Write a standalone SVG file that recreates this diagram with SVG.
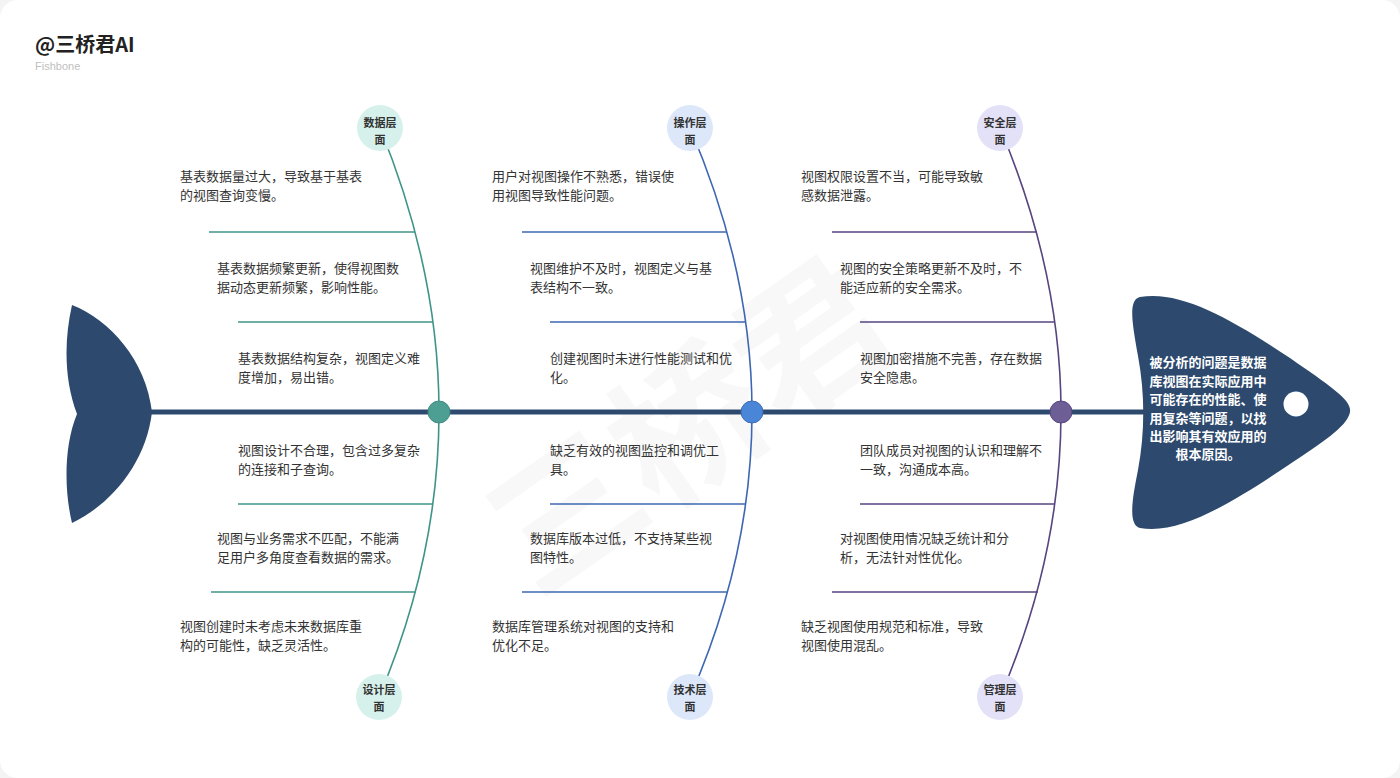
<svg xmlns="http://www.w3.org/2000/svg" width="1400" height="778" viewBox="0 0 1400 778">
<defs>
<style>
text{font-family:"Noto Sans CJK SC","Noto Sans",sans-serif;}
.t{font-size:13px;fill:#333;}
.nt{font-size:11px;font-weight:bold;fill:#333;text-anchor:middle;}
.ht{font-size:13px;font-weight:bold;fill:#fff;text-anchor:middle;}
.teal{stroke:#3f9488;fill:none;stroke-width:1.6;}
.blue{stroke:#3e67b3;fill:none;stroke-width:1.6;}
.purp{stroke:#56457f;fill:none;stroke-width:1.6;}
</style>
</defs>
<rect x="0" y="0" width="1400" height="778" fill="#f4f4f4"/>
<rect x="0" y="0" width="1400" height="778" rx="18" fill="#ffffff"/>
<text x="35" y="52" style="font-size:20px;font-weight:bold;fill:#222;">@三桥君AI</text>
<text x="35" y="70" style="font-family:'Liberation Sans',sans-serif;font-size:11px;fill:#c0c0c0;">Fishbone</text>
<text x="0" y="0" transform="translate(720,470) rotate(-35)" style="font-size:150px;font-weight:bold;fill:#000;opacity:0.025;text-anchor:middle;">三桥君</text>

<g id="tail"><path d="M72,305 C110,320 146,360 152,412 C146,464 110,505 72,523 C64,490 64,445 77,414 C64,380 64,340 72,305 Z" fill="#2d4a6e"/></g>

<g id="connectors">
<line x1="150" y1="412" x2="1150" y2="412" stroke="#2d4a6e" stroke-width="5"/>
<path class="teal" d="M439,412 Q439,272 380,128"/>
<path class="teal" d="M439,412 Q439,556 379,697"/>
<line class="teal" x1="209" y1="232" x2="415" y2="232"/>
<line class="teal" x1="238" y1="322" x2="433" y2="322"/>
<line class="teal" x1="238" y1="504" x2="433" y2="504"/>
<line class="teal" x1="211" y1="592" x2="416" y2="592"/>
<path class="blue" d="M752,412 Q752,272 690,128"/>
<path class="blue" d="M752,412 Q752,556 690,697"/>
<line class="blue" x1="522" y1="232" x2="727" y2="232"/>
<line class="blue" x1="550" y1="322" x2="746" y2="322"/>
<line class="blue" x1="550" y1="504" x2="746" y2="504"/>
<line class="blue" x1="522" y1="592" x2="728" y2="592"/>
<path class="purp" d="M1061,412 Q1061,272 1000,128"/>
<path class="purp" d="M1061,412 Q1061,556 1000,697"/>
<line class="purp" x1="832" y1="232" x2="1037" y2="232"/>
<line class="purp" x1="860" y1="322" x2="1055" y2="322"/>
<line class="purp" x1="860" y1="504" x2="1055" y2="504"/>
<line class="purp" x1="832" y1="592" x2="1038" y2="592"/>
</g>

<g id="junctions">
<circle cx="439" cy="412" r="11" fill="#4d9e93" stroke="#3f8c82" stroke-width="1"/>
<circle cx="752" cy="412" r="11" fill="#4a86d8" stroke="#3e6ab5" stroke-width="1"/>
<circle cx="1061" cy="412" r="11" fill="#6d5e96" stroke="#56457f" stroke-width="1"/>
</g>

<g id="head">
<path d="M1140,297 C1180,290 1230,318 1290,358 C1330,386 1352,400 1350,412 C1348,424 1330,438 1290,464 C1230,504 1180,535 1140,528 C1128,525 1132,500 1138,470 C1145,432 1145,394 1138,356 C1132,322 1128,300 1140,297 Z" fill="#2d4a6e"/>
<circle cx="1296" cy="404" r="12.5" fill="#fff"/>
<text class="ht"><tspan x="1208" y="367">被分析的问题是数据</tspan><tspan x="1208" y="385.5">库视图在实际应用中</tspan><tspan x="1208" y="404">可能存在的性能、使</tspan><tspan x="1208" y="422.5">用复杂等问题，以找</tspan><tspan x="1208" y="441">出影响其有效应用的</tspan><tspan x="1208" y="459">根本原因。</tspan></text>
</g>

<g id="node-data"><circle cx="380" cy="128" r="23" fill="#d6f1ec"/><text class="nt"><tspan x="380" y="127">数据层</tspan><tspan x="380" y="144">面</tspan></text></g>
<g id="node-op"><circle cx="690" cy="128" r="23" fill="#dce8fa"/><text class="nt"><tspan x="690" y="127">操作层</tspan><tspan x="690" y="144">面</tspan></text></g>
<g id="node-sec"><circle cx="1000" cy="128" r="23" fill="#e3e1f8"/><text class="nt"><tspan x="1000" y="127">安全层</tspan><tspan x="1000" y="144">面</tspan></text></g>
<g id="node-design"><circle cx="379" cy="697" r="23" fill="#d6f1ec"/><text class="nt"><tspan x="379" y="694">设计层</tspan><tspan x="379" y="711">面</tspan></text></g>
<g id="node-tech"><circle cx="690" cy="697" r="23" fill="#dce8fa"/><text class="nt"><tspan x="690" y="694">技术层</tspan><tspan x="690" y="711">面</tspan></text></g>
<g id="node-mgmt"><circle cx="1000" cy="697" r="23" fill="#e3e1f8"/><text class="nt"><tspan x="1000" y="694">管理层</tspan><tspan x="1000" y="711">面</tspan></text></g>

<g id="causes-data">
<text class="t"><tspan x="180" y="181">基表数据量过大，导致基于基表</tspan><tspan x="180" y="199.5">的视图查询变慢。</tspan></text>
<text class="t"><tspan x="217" y="273">基表数据频繁更新，使得视图数</tspan><tspan x="217" y="291.5">据动态更新频繁，影响性能。</tspan></text>
<text class="t"><tspan x="238" y="363">基表数据结构复杂，视图定义难</tspan><tspan x="238" y="381.5">度增加，易出错。</tspan></text>
</g>
<g id="causes-design">
<text class="t"><tspan x="238" y="455">视图设计不合理，包含过多复杂</tspan><tspan x="238" y="473.5">的连接和子查询。</tspan></text>
<text class="t"><tspan x="217" y="543">视图与业务需求不匹配，不能满</tspan><tspan x="217" y="561.5">足用户多角度查看数据的需求。</tspan></text>
<text class="t"><tspan x="180" y="631">视图创建时未考虑未来数据库重</tspan><tspan x="180" y="649.5">构的可能性，缺乏灵活性。</tspan></text>
</g>
<g id="causes-op">
<text class="t"><tspan x="492" y="181">用户对视图操作不熟悉，错误使</tspan><tspan x="492" y="199.5">用视图导致性能问题。</tspan></text>
<text class="t"><tspan x="530" y="273">视图维护不及时，视图定义与基</tspan><tspan x="530" y="291.5">表结构不一致。</tspan></text>
<text class="t"><tspan x="550" y="363">创建视图时未进行性能测试和优</tspan><tspan x="550" y="381.5">化。</tspan></text>
</g>
<g id="causes-tech">
<text class="t"><tspan x="550" y="455">缺乏有效的视图监控和调优工</tspan><tspan x="550" y="473.5">具。</tspan></text>
<text class="t"><tspan x="530" y="543">数据库版本过低，不支持某些视</tspan><tspan x="530" y="561.5">图特性。</tspan></text>
<text class="t"><tspan x="492" y="631">数据库管理系统对视图的支持和</tspan><tspan x="492" y="649.5">优化不足。</tspan></text>
</g>
<g id="causes-sec">
<text class="t"><tspan x="801" y="181">视图权限设置不当，可能导致敏</tspan><tspan x="801" y="199.5">感数据泄露。</tspan></text>
<text class="t"><tspan x="840" y="273">视图的安全策略更新不及时，不</tspan><tspan x="840" y="291.5">能适应新的安全需求。</tspan></text>
<text class="t"><tspan x="860" y="363">视图加密措施不完善，存在数据</tspan><tspan x="860" y="381.5">安全隐患。</tspan></text>
</g>
<g id="causes-mgmt">
<text class="t"><tspan x="860" y="455">团队成员对视图的认识和理解不</tspan><tspan x="860" y="473.5">一致，沟通成本高。</tspan></text>
<text class="t"><tspan x="840" y="543">对视图使用情况缺乏统计和分</tspan><tspan x="840" y="561.5">析，无法针对性优化。</tspan></text>
<text class="t"><tspan x="801" y="631">缺乏视图使用规范和标准，导致</tspan><tspan x="801" y="649.5">视图使用混乱。</tspan></text>
</g>
</svg>
